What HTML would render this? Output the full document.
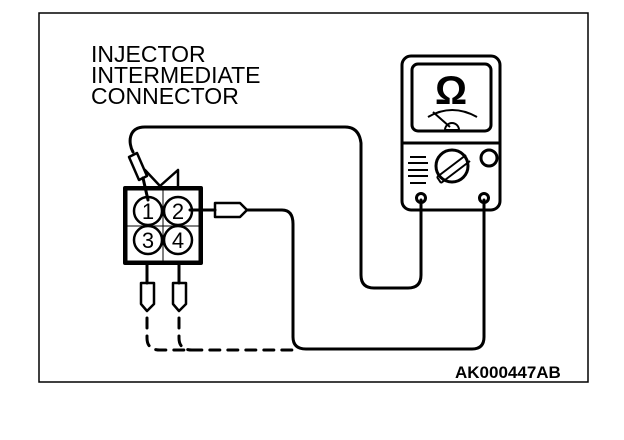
<!DOCTYPE html>
<html><head><style>html,body{margin:0;padding:0;background:#fff}svg{display:block}</style></head><body>
<svg width="624" height="440" viewBox="0 0 624 440" xmlns="http://www.w3.org/2000/svg">
<rect x="39" y="13" width="549" height="369" fill="none" stroke="#000" stroke-width="1.5"/>
<g font-family="Liberation Sans, sans-serif" font-size="23" fill="#000">
<text x="91" y="62">INJECTOR</text>
<text x="91" y="83">INTERMEDIATE</text>
<text x="91" y="104">CONNECTOR</text>
</g>
<text x="455" y="378" font-family="Liberation Sans, sans-serif" font-size="17" font-weight="bold">AK000447AB</text>
<g fill="none" stroke="#000" stroke-width="3" stroke-linejoin="round" stroke-linecap="round">
<path d="M133 152 C128 143 128 127 145 127 L345 127 Q359 127 361 143 L361 275 Q361 288 374 288 L408 288 Q421 288 421 275 L421 200"/>
<path d="M247 210 L282 210 Q293 210 293 224 L293 337 Q293 349 306 349 L472 349 Q484 349 484 337 L484 200"/>
<path d="M147 318 L147 338 Q147 350 160 350 L293 350" stroke-dasharray="10 8"/>
<path d="M179 318 L179 338 Q179 350 192 350" stroke-dasharray="10 8"/>
<rect x="402" y="56" width="98" height="154" rx="9"/>
<rect x="412" y="64" width="79" height="67" rx="6"/>
<line x1="402" y1="143" x2="500" y2="143"/>
<circle cx="452" cy="166" r="16"/>
<circle cx="489" cy="158" r="8"/>
<circle cx="421" cy="198" r="4.5"/>
<circle cx="484" cy="198" r="4.5"/>
<rect x="125" y="188" width="76" height="75" stroke-width="4"/>
<circle cx="148" cy="211" r="14" stroke-width="2.5"/>
<circle cx="178" cy="211" r="14" stroke-width="2.5"/>
<circle cx="148" cy="240" r="14" stroke-width="2.5"/>
<circle cx="178" cy="240" r="14" stroke-width="2.5"/>
<path d="M147 263 L147 283"/><path d="M179 263 L179 283"/>
<path d="M141 283 L154 283 L154 304 L147 311 L141 304 Z" stroke-width="2.5"/>
<path d="M173 283 L186 283 L186 304 L179 311 L173 304 Z" stroke-width="2.5"/>
<path d="M190 210 L215 210"/>
<path d="M215 203 L240 203 L247 210 L240 217 L215 217 Z" stroke-width="2.5"/>
<path d="M129 157 L137 153 L147 176 L139 180 Z" stroke-width="2.5"/>
<path d="M143 178 L148 200"/>
<path d="M145 170 L160 186 L178 170 L178 186" stroke-width="2.5"/>
</g>
<g fill="none" stroke="#000" stroke-width="1">
<path d="M127 190 L199 190 M127 226 L199 226 M163 190 L163 261 M127 261 L199 261 M127 190 L127 261 M199 190 L199 261"/>
</g>
<g font-family="Liberation Sans, sans-serif" font-size="22" text-anchor="middle" fill="#000">
<text x="148" y="219">1</text><text x="178" y="219">2</text>
<text x="148" y="248">3</text><text x="178" y="248">4</text>
</g>
<text x="451" y="104" font-family="Liberation Sans, sans-serif" font-size="40" font-weight="bold" text-anchor="middle">Ω</text>
<g fill="none" stroke="#000" stroke-width="2">
<path d="M428 117 Q452 103 477 117"/>
<path d="M433 112 L450 127"/>
<path d="M445 130 A7 7 0 0 1 459 130 Z"/>
<path d="M410 157 L426 157 M408 163 L428 163 M408 170 L428 170 M408 176 L428 176 M410 183 L426 183"/>
<path d="M437 177 L466 155 M441 183 L470 161 M437 177 L441 183"/>
</g>
</svg>
</body></html>
